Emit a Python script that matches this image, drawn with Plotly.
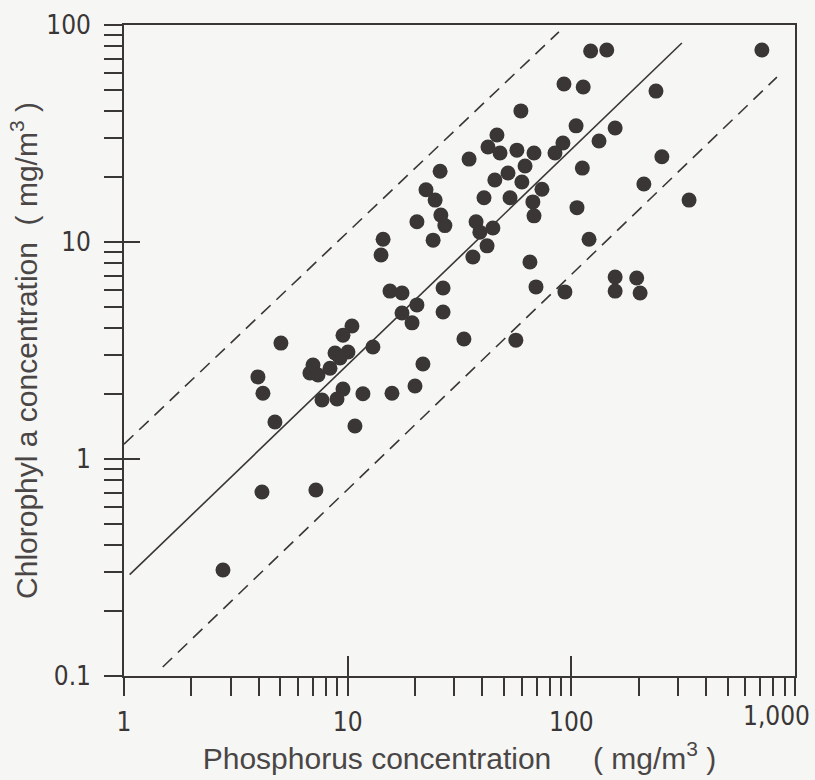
import plotly.graph_objects as go

# Data: phosphorus (mg/m3) vs chlorophyll a (mg/m3)
phosphorus = [5.03, 3.97, 4.18, 4.73, 4.14, 7.21, 2.77, 10.45, 9.53, 12.97,
              8.78, 10.03, 9.24, 7.00, 6.78, 7.37, 8.34, 9.53, 8.96, 7.68,
              11.7, 10.78, 15.78, 20.0, 21.7, 33.1, 56.5, 15.46, 17.5, 20.4,
              26.7, 17.5, 19.4, 26.7, 14.4, 14.1, 20.4, 26.1, 27.2, 24.1,
              22.4, 24.6, 37.5, 39.0, 44.6, 42.0, 36.3, 65.3, 69.5, 93.6,
              34.9, 25.9, 42.4, 48.0, 57.1, 68.1, 84.5, 91.7, 62.1, 52.1,
              45.5, 60.1, 73.9, 40.7, 53.2, 67.3, 68.1, 106, 46.5, 59.5,
              122, 144, 711, 92.7, 113, 239, 105, 157, 133, 112,
              254, 211, 336, 120, 157, 157, 196, 203]
chlorophyll = [3.42, 2.39, 2.01, 1.48, 0.705, 0.72, 0.308, 4.10, 3.72, 3.28,
               3.08, 3.11, 2.92, 2.71, 2.49, 2.44, 2.62, 2.10, 1.89, 1.87,
               2.00, 1.42, 2.01, 2.17, 2.74, 3.57, 3.53, 5.94, 5.82, 5.13,
               6.14, 4.71, 4.24, 4.76, 10.3, 8.71, 12.4, 13.3, 11.9, 10.2,
               17.4, 15.6, 12.4, 11.1, 11.6, 9.6, 8.53, 8.09, 6.21, 5.89,
               24.1, 21.2, 27.4, 25.7, 26.5, 25.7, 25.7, 28.6, 22.4, 20.8,
               19.3, 18.9, 17.5, 16.0, 16.0, 15.3, 13.2, 14.4, 31.1, 40.2,
               75.9, 76.7, 76.7, 53.5, 51.8, 49.6, 34.3, 33.5, 29.2, 21.9,
               24.7, 18.5, 15.6, 10.3, 6.90, 5.94, 6.82, 5.82]

# Regression line and limits (end points)
fit_x = [1.06, 312]
fit_y = [0.293, 82.6]
upper_x = [1.0, 88]
upper_y = [1.17, 93]
lower_x = [1.49, 830]
lower_y = [0.110, 57.5]

x_major = [1, 10, 100, 1000]
x_major_text = ["1", "10", "100", "1,000"]
y_major = [0.1, 1, 10, 100]
y_major_text = ["0.1", "1", "10", "100"]

def minors(lo_exp, hi_exp):
    out = []
    for e in range(lo_exp, hi_exp):
        for m in range(2, 10):
            out.append(m * 10 ** e)
    return out

x_minor = minors(0, 3)
y_minor = minors(-1, 2)

ink = "#3a3636"
bg = "#f6f6f4"
tick_font = dict(family="Liberation Sans Narrow, DejaVu Sans Condensed, sans-serif",
                 size=26, color=ink)
title_font = dict(family="Liberation Sans, Arial, sans-serif", size=30, color="#4a4646")

fig = go.Figure()
fig.add_trace(go.Scatter(x=fit_x, y=fit_y, mode="lines",
                         line=dict(color=ink, width=1.6), showlegend=False))
fig.add_trace(go.Scatter(x=upper_x, y=upper_y, mode="lines",
                         line=dict(color=ink, width=1.6, dash="13px,8px"), showlegend=False))
fig.add_trace(go.Scatter(x=lower_x, y=lower_y, mode="lines",
                         line=dict(color=ink, width=1.6, dash="13px,8px"), showlegend=False))
fig.add_trace(go.Scatter(x=phosphorus, y=chlorophyll, mode="markers",
                         marker=dict(size=15, color=ink, line=dict(width=0)),
                         showlegend=False))

# the last x label sits at the right edge; it is drawn as an annotation so it stays inside
xt_vals = x_major[:-1] + [x_major[-1]] + x_minor
xt_text = x_major_text[:-1] + [""] + [""] * len(x_minor)
yt_vals = y_major + y_minor
yt_text = y_major_text + [""] * len(y_minor)

fig.add_annotation(x=3, xref="x", y=0, yref="paper", text=x_major_text[-1],
                   showarrow=False, xanchor="center", yanchor="top",
                   xshift=-19, yshift=-23, font=tick_font)

fig.update_layout(
    width=815, height=780,
    margin=dict(l=124, r=20, t=25, b=104, autoexpand=False),
    paper_bgcolor=bg, plot_bgcolor=bg,
    xaxis=dict(type="log", range=[0, 3], showgrid=False, zeroline=False,
               showline=True, linecolor=ink, linewidth=1.6, mirror=True,
               automargin=False,
               tickmode="array", tickvals=xt_vals, ticktext=xt_text,
               ticks="outside", ticklen=18, tickwidth=1.5, tickcolor=ink,
               tickfont=tick_font, ticklabelstandoff=4,
               title=dict(text="Phosphorus concentration     ( mg/m<sup>3</sup> )",
                          font=title_font, standoff=4)),
    yaxis=dict(type="log", range=[-1, 2], showgrid=False, zeroline=False,
               showline=True, linecolor=ink, linewidth=1.6, mirror=True,
               automargin=False,
               tickmode="array", tickvals=yt_vals, ticktext=yt_text,
               ticks="outside", ticklen=18, tickwidth=1.5, tickcolor=ink,
               tickfont=tick_font, ticklabeloverflow="allow", ticklabelstandoff=8,
               title=dict(text="Chlorophyl a concentration  ( mg/m<sup>3</sup> )",
                          font=title_font, standoff=0)),
    xaxis2=dict(type="log", range=[0, 3], overlaying="x", side="bottom",
                showgrid=False, zeroline=False, showline=False, automargin=False,
                tickmode="array", tickvals=x_major, ticktext=[""] * 4,
                ticks="inside", ticklen=20, tickwidth=1.5, tickcolor=ink),
    yaxis2=dict(type="log", range=[-1, 2], overlaying="y", side="left",
                showgrid=False, zeroline=False, showline=False, automargin=False,
                tickmode="array", tickvals=y_major, ticktext=[""] * 4,
                ticks="inside", ticklen=16, tickwidth=1.5, tickcolor=ink),
)
# invisible trace to activate overlay axes
fig.add_trace(go.Scatter(x=[1], y=[1], xaxis="x2", yaxis="y2", mode="markers",
                         marker=dict(opacity=0), showlegend=False, hoverinfo="skip"))

fig.write_html("out.html")
